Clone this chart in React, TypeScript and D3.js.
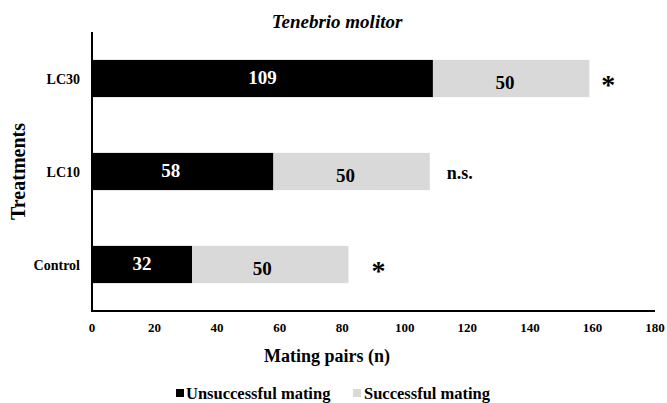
import React, { useEffect } from "react";
import * as d3 from "d3";

const categories = ["LC30", "LC10", "Control"];
const unsuccessful = [109, 58, 32];
const successful = [50, 50, 50];
const significance = ["*", "n.s.", "*"];
const xTicks = [0, 20, 40, 60, 80, 100, 120, 140, 160, 180];
const seriesNames = ["Unsuccessful mating", "Successful mating"];
const colors = ["#000000", "#d9d9d9"];

const W = 667;
const H = 403;
const left = 92;
const right = 655;
const top = 32;
const bottom = 311;
const font = "'Liberation Serif', 'Times New Roman', serif";

export default function App() {
  useEffect(() => {
    document.body.style.margin = "0";
  }, []);
  const x = d3.scaleLinear().domain([0, 180]).range([left, right]);
  const y = d3
    .scaleBand<string>()
    .domain(categories)
    .range([top, bottom])
    .paddingInner(0.6)
    .paddingOuter(0.3);
  const bw = y.bandwidth();
  const sigOffset = [19, 17, 30];

  return (
    <svg width={W} height={H} style={{ display: "block" }} fontFamily={font}>
      <text x={337} y={28} textAnchor="middle" fontSize={19} fontWeight="bold" fontStyle="italic">
        Tenebrio molitor
      </text>
      {categories.map((c, i) => {
        const y0 = y(c)!;
        const u = unsuccessful[i];
        const s = successful[i];
        const total = u + s;
        const cy = y0 + bw / 2;
        return (
          <g key={c}>
            <rect x={x(0)} y={y0} width={x(u) - x(0)} height={bw} fill={colors[0]} />
            <rect x={x(u)} y={y0} width={x(total) - x(u)} height={bw} fill={colors[1]} />
            <text x={(x(0) + x(u)) / 2 - (i === 1 ? 12 : 0)} y={cy + 5} textAnchor="middle" fontSize={19} fontWeight="bold" fill="#fff">
              {u}
            </text>
            <text x={(x(u) + x(total)) / 2 - (i === 2 ? 8 : 6)} y={cy + 10} textAnchor="middle" fontSize={19} fontWeight="bold" fill="#000">
              {s}
            </text>
            <text x={left - 12} y={cy + 5} textAnchor="end" fontSize={14} fontWeight="bold">
              {c}
            </text>
            {significance[i] === "*" ? (
              <text x={x(total) + sigOffset[i]} y={cy + 15} textAnchor="middle" fontSize={28} fontWeight="bold">
                *
              </text>
            ) : (
              <text x={x(total) + sigOffset[i]} y={cy + 7} textAnchor="start" fontSize={18} fontWeight="bold">
                {significance[i]}
              </text>
            )}
          </g>
        );
      })}
      <line x1={left} x2={left} y1={top} y2={bottom} stroke="#000" strokeWidth={2} />
      <line x1={left - 1} x2={right} y1={bottom} y2={bottom} stroke="#000" strokeWidth={2} />
      {xTicks.map((t) => (
        <text key={t} x={x(t)} y={bottom + 21} textAnchor="middle" fontSize={13} fontWeight="bold">
          {t}
        </text>
      ))}
      <text x={327} y={362} textAnchor="middle" fontSize={18} fontWeight="bold">
        Mating pairs (n)
      </text>
      <text transform={`translate(25,${(top + bottom) / 2}) rotate(-90)`} textAnchor="middle" fontSize={20} fontWeight="bold">
        Treatments
      </text>
      <g>
        <rect x={176} y={389} width={8} height={8} fill={colors[0]} />
        <text x={186} y={399} fontSize={16.5} fontWeight="bold">
          {seriesNames[0]}
        </text>
        <rect x={353} y={389} width={8} height={8} fill={colors[1]} />
        <text x={364} y={399} fontSize={16.5} fontWeight="bold">
          {seriesNames[1]}
        </text>
      </g>
    </svg>
  );
}
